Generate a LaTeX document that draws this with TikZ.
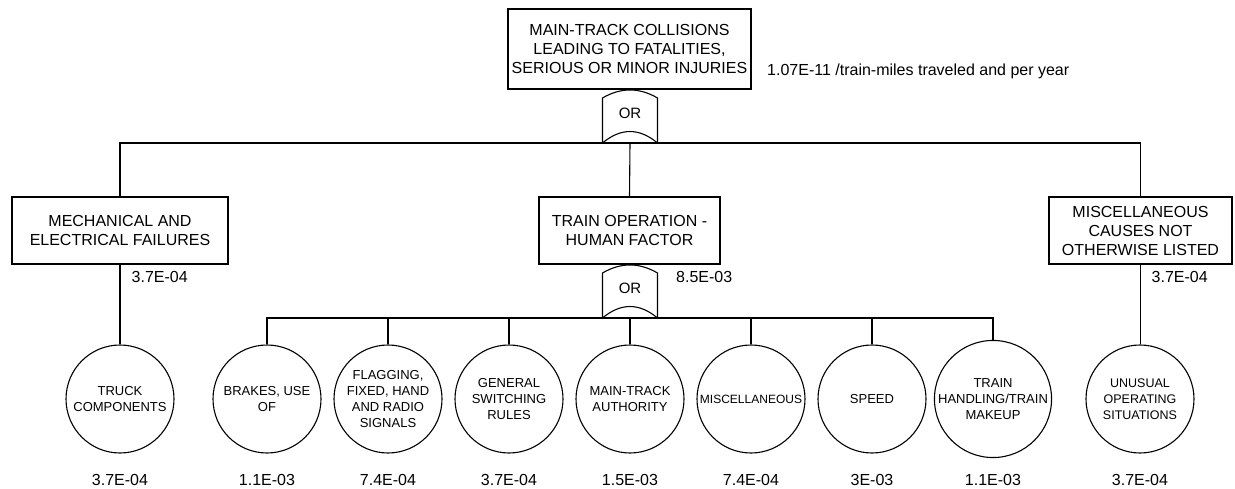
\documentclass[tikz,border=0pt]{standalone}
\usepackage{fontspec}
\setmainfont{Liberation Sans}
% OR gate: #1 name, #2 centre x, #3 y of the top of the upper arc
\newcommand\orgate[3]{%
  \draw[line] (#2-27.5,#3+8) .. controls (#2-9.2,#3-2.7) and (#2+9.2,#3-2.7) .. (#2+27.5,#3+8)
    -- (#2+27.5,#3+53) .. controls (#2+9.2,#3+37.7) and (#2-9.2,#3+37.7) .. (#2-27.5,#3+53) -- cycle;
  \node[gatelabel, anchor=base] (#1) at (#2,#3+29) {OR};
  \coordinate (#1-out) at (#2,#3+53);
}
\begin{document}
\begin{tikzpicture}[x=1pt,y=-1pt,
  line/.style={line width=1.1pt, black},
  event/.style={draw, line width=1.1pt, rectangle, align=center, inner sep=0pt,
                font=\fontsize{16}{19}\selectfont},
  basic/.style={draw, line width=1.1pt, circle, minimum size=108pt, inner sep=0pt,
                align=center, font=\fontsize{13}{16}\selectfont},
  val/.style={inner sep=0pt, font=\fontsize{16}{19}\selectfont},
  gatelabel/.style={inner sep=0pt, font=\fontsize{15}{18}\selectfont}]
\useasboundingbox (0,0) rectangle (1235,489);

% top event
\node[event, minimum width=243pt, minimum height=80pt] (top) at (629.5,49)
  {MAIN-TRACK COLLISIONS\\LEADING TO FATALITIES,\\SERIOUS OR MINOR INJURIES};
\node[val, anchor=base west] (topval) at (767,75.5) {1.07E-11 /train-miles traveled and per year};
\orgate{g1}{630}{90}

% intermediate events
\node[event, minimum width=216pt, minimum height=67pt] (mef) at (120,230.5)
  {MECHANICAL AND\\ELECTRICAL FAILURES};
\node[event, minimum width=181pt, minimum height=67pt] (tfh) at (629.5,230.5)
  {TRAIN OPERATION -\\HUMAN FACTOR};
\node[event, minimum width=183pt, minimum height=67pt] (misc) at (1140.5,230.5)
  {MISCELLANEOUS\\CAUSES NOT\\OTHERWISE LISTED};
\node[val, anchor=base west] (mefval) at (131.5,283) {3.7E-04};
\node[val, anchor=base west] (tfhval) at (676,283) {8.5E-03};
\node[val, anchor=base west] (miscval) at (1151.5,283) {3.7E-04};
\orgate{g2}{630}{265}

% basic events
\node[basic] (c1) at (120,399) {TRUCK\\COMPONENTS};
\node[basic] (c2) at (267,399) {BRAKES, USE\\OF};
\node[basic] (c3) at (388,399) {FLAGGING,\\FIXED, HAND\\AND RADIO\\SIGNALS};
\node[basic] (c4) at (509,399) {GENERAL\\SWITCHING\\RULES};
\node[basic] (c5) at (630,399) {MAIN-TRACK\\AUTHORITY};
\node[basic, font=\fontsize{12}{15}\selectfont] (c6) at (751,399) {MISCELLANEOUS};
\node[basic] (c7) at (872,399) {SPEED};
\node[basic] (c8) at (993,399) {TRAIN\\HANDLING/TRAIN\\MAKEUP};
\node[basic, font=\fontsize{12.5}{16}\selectfont] (c9) at (1140,399) {UNUSUAL\\OPERATING\\SITUATIONS};

\node[val, anchor=base] (v1) at (120,485) {3.7E-04};
\node[val, anchor=base] (v2) at (267,485) {1.1E-03};
\node[val, anchor=base] (v3) at (388,485) {7.4E-04};
\node[val, anchor=base] (v4) at (509,485) {3.7E-04};
\node[val, anchor=base] (v5) at (630,485) {1.5E-03};
\node[val, anchor=base] (v6) at (751,485) {7.4E-04};
\node[val, anchor=base] (v7) at (872,485) {3E-03};
\node[val, anchor=base] (v8) at (993,485) {1.1E-03};
\node[val, anchor=base] (v9) at (1140,485) {3.7E-04};

% connectors under the top gate
\draw[line] (mef.north) |- (g1-out) -| (misc.north);
\draw[line] (g1-out) -- (tfh.north);
\draw[line] (mef.south) -- (c1.north);
\draw[line] (misc.south) -- (misc.south |- c9.north);

% connectors under the human-factor gate
\draw[line] (c2.north) |- (g2-out) -| (c8.north);
\draw[line] (g2-out) -- (c5.north);
\foreach \n in {c3,c4,c6,c7}
  \draw[line] (\n.north) -- (\n.north |- g2-out);
\end{tikzpicture}
\end{document}
